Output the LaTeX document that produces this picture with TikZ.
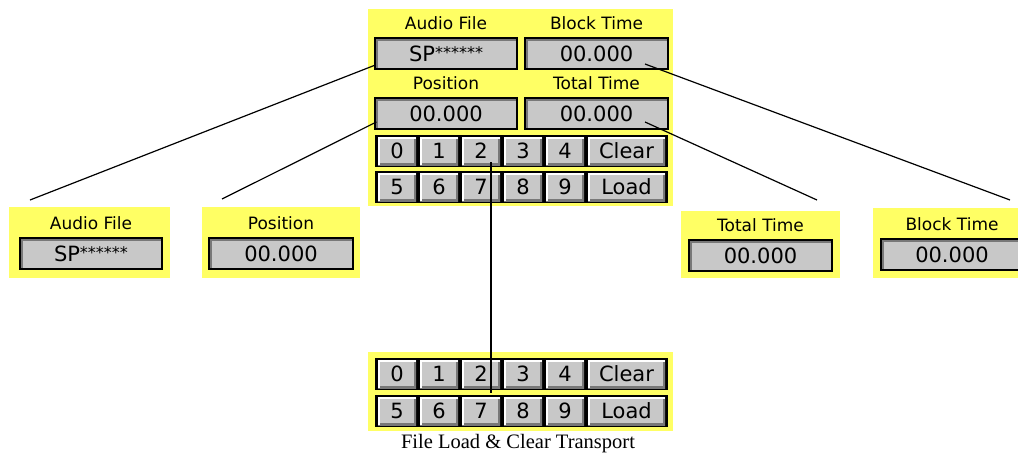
\documentclass[tikz,border=0pt]{standalone}
\usepackage{fontspec}
\setmainfont{Liberation Serif}
\newfontfamily\guifont{DejaVu Sans}
\usetikzlibrary{
    calc,
    positioning
}
\definecolor{panelyellow}{RGB}{255,255,100}
\definecolor{facegray}{RGB}{200,200,200}
\definecolor{shadegray}{RGB}{120,120,120}

\tikzset{
    sunken/.style={path picture={
        \draw[white,line width=3pt] (path picture bounding box.south west) -| (path picture bounding box.north east);
        \draw[shadegray,line width=5pt] (path picture bounding box.south west) |- (path picture bounding box.north east);
    }},
    raised/.style={path picture={
        \draw[shadegray,line width=5pt] (path picture bounding box.south west) -| (path picture bounding box.north east);
        \draw[white,line width=4pt] (path picture bounding box.south west) |- (path picture bounding box.north east);
    }},
    field/.style={draw=black,line width=1.2pt,fill=facegray,sunken,
        minimum width=#1,minimum height=31pt,inner sep=0pt,
        font=\guifont\fontsize{21}{21}\selectfont},
    field/.default=142pt,
    lbl/.style={inner sep=0pt,text height=12pt,text depth=0pt,
        font=\guifont\fontsize{17}{17}\selectfont},
    keyrow/.style={fill=black,minimum width=293pt,minimum height=32pt,inner sep=0pt},
    key/.style={fill=facegray,raised,minimum width=#1,minimum height=28pt,inner sep=0pt,
        font=\guifont\fontsize{21}{21}\selectfont},
    key/.default=38pt
}
\newcommand{\stars}{SP\raisebox{3pt}{\fontsize{16}{16}\selectfont ******}}

\begin{document}
\begin{tikzpicture}[x=1pt,y=-1pt]

\useasboundingbox (0,0) rectangle (1018,455);
\clip (0,0) rectangle (1018,455);

% yellow panels
\fill[panelyellow] (368,9) rectangle (673,206);
\fill[panelyellow] (368,352) rectangle (673,431);
\fill[panelyellow] (9,207) rectangle (170,278);
\fill[panelyellow] (202,207) rectangle (360,278);
\fill[panelyellow] (681,211) rectangle (840,278);
\fill[panelyellow] (873,208) rectangle (1031,278);

% main panel fields
\node[field] (afbig) at (446,53.5) {\stars};
\node[field=143pt] (btbig) at (596.5,53.5) {00.000};
\node[field] (posbig) at (446,113.5) {00.000};
\node[field=143pt] (ttbig) at (596.5,113.5) {00.000};

\node[lbl,above=7.5pt of afbig] {Audio File};
\node[lbl,above=7.5pt of btbig] {Block Time};
\node[lbl,above=7.5pt of posbig] {Position};
\node[lbl,above=7.5pt of ttbig] {Total Time};

% key rows, upper and lower
\node[keyrow] (urowa) at (521.5,151) {};
\node[keyrow] (urowb) at (521.5,187) {};
\node[keyrow] (lrowa) at (521.5,374) {};
\node[keyrow] (lrowb) at (521.5,411) {};

\foreach \d in {0,...,4} {
    \node[key] (ua\d) at (397+42*\d,151) {\d};
    \node[key] (la\d) at (397+42*\d,374) {\d};
}
\foreach \d [evaluate=\d as \n using int(\d+5)] in {0,...,4} {
    \node[key] (ub\d) at (397+42*\d,187) {\n};
    \node[key] (lb\d) at (397+42*\d,411) {\n};
}
\node[key=77pt] (uclear) at (626.5,151) {Clear};
\node[key=77pt] (uload) at (626.5,187) {Load};
\node[key=77pt] (lclear) at (626.5,374) {Clear};
\node[key=77pt] (lload) at (626.5,411) {Load};

% small panels
\node[field] (afsmall) at (91,253.5) {\stars};
\node[field=144pt] (possmall) at (281,253.5) {00.000};
\node[field=143pt] (ttsmall) at (760.5,255.5) {00.000};
\node[field] (btsmall) at (952,254.5) {00.000};

\node[lbl,above=7.5pt of afsmall] {Audio File};
\node[lbl,above=7.5pt of possmall] {Position};
\node[lbl,above=7.5pt of ttsmall] {Total Time};
\node[lbl,above=7.5pt of btsmall] {Block Time};

\node[font=\fontsize{20.5}{20.5}\selectfont,inner sep=0pt] (caption) at (518,444) {File Load \& Clear Transport};

% connectors
\coordinate (afend) at (30,200);
\coordinate (posend) at (222,199);
\coordinate (ttend) at (817,200);
\coordinate (btend) at (1010,200);

\draw[line width=1.2pt] ($(afbig.west)+(1,11.5)$) -- (afend);
\draw[line width=1.2pt] ($(posbig.west)+(2,8.5)$) -- (posend);
\draw[line width=1.2pt] ($(btbig)+(48.5,10.5)$) -- (btend);
\draw[line width=1.2pt] ($(ttbig)+(48.5,8.5)$) -- (ttend);
\draw[line width=1.2pt] ($(ua2)+(10,11)$) -- ($(la2)+(10,19)$);

\end{tikzpicture}
\end{document}
